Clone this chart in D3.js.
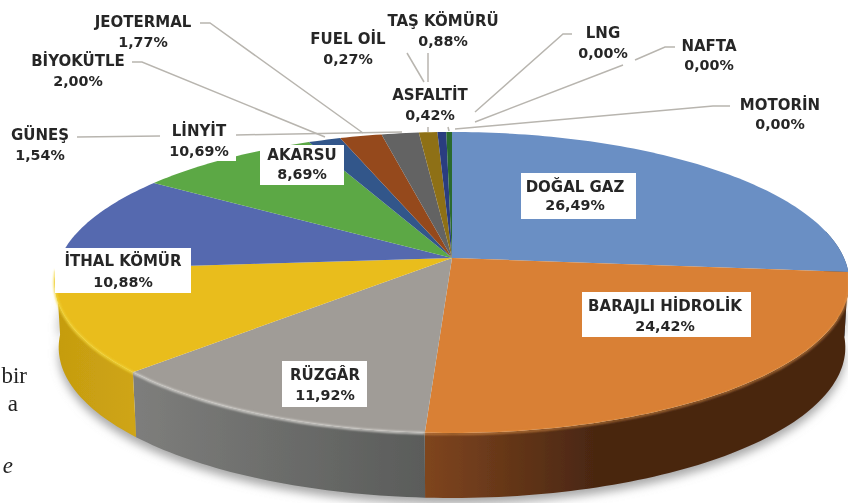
<!DOCTYPE html>
<html><head><meta charset="utf-8">
<script src="https://cdn.jsdelivr.net/npm/d3@7"></script>
<style>html,body{margin:0;padding:0;background:#fff;overflow:hidden}svg{display:block}</style>
</head><body><svg id="c" width="848" height="503"></svg>
<script>
// DATA
const categories = ["DOĞAL GAZ","BARAJLI HİDROLİK","RÜZGÂR","İTHAL KÖMÜR","LİNYİT","AKARSU","GÜNEŞ","BİYOKÜTLE","JEOTERMAL","TAŞ KÖMÜRÜ","ASFALTİT","FUEL OİL","LNG","NAFTA","MOTORİN"];
const shares = [26.49,24.42,11.92,10.88,10.69,8.69,1.54,2.00,1.77,0.88,0.42,0.27,0.00,0.00,0.00];
const valueLabels = ["26,49%","24,42%","11,92%","10,88%","10,69%","8,69%","1,54%","2,00%","1,77%","0,88%","0,42%","0,27%","0,00%","0,00%","0,00%"];
const topColors = ["#6a8fc4","#d98034","#a09c97","#e9bd1d","#5469af","#5ba845","#33568a","#954a1e","#636363","#8e7015","#2c3e80","#2a6a2e","#2a6a2e","#2a6a2e","#2a6a2e"];
const sideStops = [["#2f4a6b","#2f4a6b",1],["#7f451f","#4a2711",0.4],["#7e7e7c","#5a5c5a",1],["#c59c10","#cfa514",1]];

// LAYOUT (label centre x, line-1 y, line-2 y)
const labelPos = [[575,187,205],[665,306,326],[325,375,395],[123,261,282],[199,131,151],[302,155,174],[40,135,155],[78,61,81],[143,22,42],[443,21,41],[430,95,115],[348,39,59],[603,33,53],[709,46,65],[780,105,124]];
const boxes = [[521,173,115,46],[582,292,169,45],[282,361,85,46],[55,248,136,45],[166,122,70,39],[260,145,84,40],[388,85,84,40]];
const leaders = [
  [[200,23],[210,23],[363,133]],[[132,62],[142,62],[325,137]],[[77,137],[160,136]],[[236,135],[402,132]],
  [[407,53],[424,82]],[[428,53],[428,82]],[[428,127],[428,132]],[[448,127],[449,131]],
  [[572,34],[563,34],[475,112]],[[675,47],[665,47],[635,60]],[[623,65],[475,122]],[[730,106],[713,106],[455,129]]
];
const bodyText = [["bir",27,383,"normal"],["a",18,411,"normal"],["e",13,473,"italic"]];

const svg = d3.select("#c");
const defs = svg.append("defs");
const blur = (id,s)=>defs.append("filter").attr("id",id).attr("x","-20%").attr("y","-20%").attr("width","140%").attr("height","140%")
  .append("feGaussianBlur").attr("stdDeviation",s);
blur("soft",0.55); blur("shadow",5); blur("hl",1);

// perspective disc
const cx=452, ay=258, A=392, B=146.5, K=0.1628, depth=65;
const sx=d3.scaleLinear().domain([-1,1]).range([cx-A,cx+A]);
const sy=d3.scaleLinear().domain([-1,1]).range([ay-B,ay+B]);
function proj(t,lvl){
  const u=Math.sin(t), v=-Math.cos(t), w=1-K*v;
  const shrink = lvl?0.99:1;
  return [cx+(sx(u/w)-cx)*shrink, sy(v/w)+(lvl?depth:0)];
}
const arcs=d3.pie().sort(null).value(d=>d)(shares);
const line=d3.line();
const samples=(a,b,lvl)=>{const n=Math.max(2,Math.ceil(Math.abs(b-a)/0.02));return d3.range(n+1).map(i=>proj(a+(b-a)*i/n,lvl));};

const root=svg.append("g").attr("filter","url(#soft)");
// body text
root.selectAll("text.body").data(bodyText).join("text").attr("class","body")
  .attr("x",d=>d[1]).attr("y",d=>d[2]).attr("text-anchor","end").attr("font-style",d=>d[3])
  .attr("font-family","'Liberation Serif',serif").attr("font-size",23).attr("fill","#222").text(d=>d[0]);
// shadow
root.append("path").attr("d",line(samples(Math.PI*0.45,Math.PI*1.5,1).map(p=>[p[0],p[1]+6]).concat(samples(Math.PI*1.5,Math.PI*0.45,1).map(p=>[p[0],p[1]-20]))))
  .attr("fill","#a8a8a8").attr("filter","url(#shadow)");
// sides
const lo=Math.PI*0.44;
arcs.slice(0,sideStops.length).forEach((a,i)=>{
  const s=Math.max(a.startAngle,lo), e=a.endAngle;
  const top=samples(s,e,0), bot=samples(s,e,1).reverse();
  const xs=top.concat(bot).map(p=>p[0]);
  const st=sideStops[i], id="g"+i;
  const g=defs.append("linearGradient").attr("id",id).attr("gradientUnits","userSpaceOnUse")
    .attr("x1",d3.min(xs)).attr("x2",d3.max(xs)).attr("y1",0).attr("y2",0);
  g.append("stop").attr("offset",0).attr("stop-color",st[0]);
  g.append("stop").attr("offset",st[2]).attr("stop-color",st[1]);
  root.append("path").attr("d",line(top.concat(bot))+"Z").attr("fill",`url(#${id})`);
});
// top face
root.selectAll("path.slice").data(arcs).join("path").attr("class","slice")
  .attr("d",d=>d.endAngle-d.startAngle<1e-6?null:line([[cx,ay]].concat(samples(d.startAngle,d.endAngle,0)))+"Z")
  .attr("fill",(d,i)=>topColors[i]);
// bevel highlight
[[2,"#d8d6d2",2.2],[3,"#f3d73c",2.2],[1,"#e89a4e",1.2]].forEach(([i,c,w])=>{
  root.append("path").attr("d",line(samples(arcs[i].startAngle,arcs[i].endAngle,0).map(p=>[p[0],p[1]+ (i===1?1:0.5)])))
    .attr("fill","none").attr("stroke",c).attr("stroke-width",w).attr("filter","url(#hl)");
});
// leaders
root.selectAll("path.lead").data(leaders).join("path").attr("class","lead")
  .attr("d",d=>line(d)).attr("fill","none").attr("stroke","#b8b5af").attr("stroke-width",1.5);
// boxes
root.selectAll("rect.box").data(boxes).join("rect").attr("class","box")
  .attr("x",d=>d[0]).attr("y",d=>d[1]).attr("width",d=>d[2]).attr("height",d=>d[3]).attr("fill","#fff");
// labels
const lg=root.append("g").attr("font-family","'DejaVu Sans',sans-serif").attr("font-weight",700)
  .attr("fill","#282828").attr("text-anchor","middle").attr("dominant-baseline","central");
categories.forEach((c,i)=>{
  const p=labelPos[i];
  lg.append("text").attr("x",p[0]).attr("y",p[1]).attr("font-size",15).text(c);
  lg.append("text").attr("x",p[0]).attr("y",p[2]).attr("font-size",14.3).text(valueLabels[i]);
});
</script></body></html>
